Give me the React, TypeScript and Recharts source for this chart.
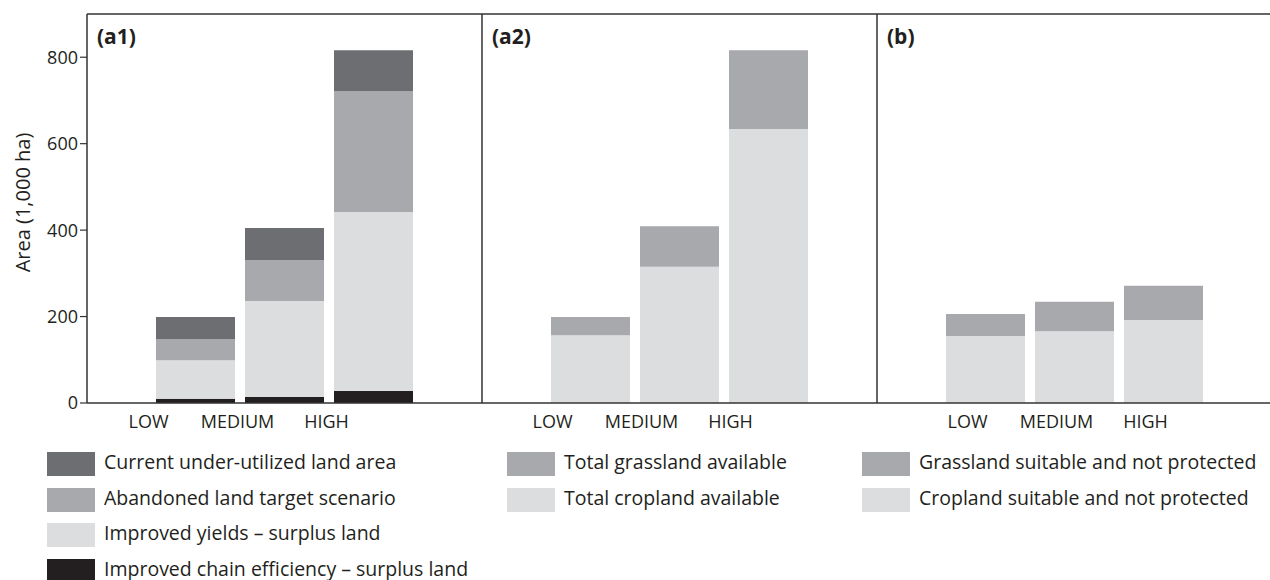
import React from 'react';
import { BarChart, Bar, XAxis, YAxis, ReferenceLine } from 'recharts';

const categories = ['LOW', 'MEDIUM', 'HIGH'];
// Panel (a1)
const chainEfficiency = [10, 14, 28];
const improvedYields = [89, 222, 414];
const abandonedLand = [49, 95, 280];
const currentUnderUtilized = [51, 74, 94];
// Panel (a2)
const totalCropland = [157, 315, 634];
const totalGrassland = [42, 94, 182];
// Panel (b)
const suitableCropland = [155, 166, 192];
const suitableGrassland = [51, 68, 79];

const yTicks = [0, 200, 400, 600, 800];
const yMax = 900;
const panelLabels = ['(a1)', '(a2)', '(b)'];
const yAxisLabel = 'Area (1,000 ha)';

const DARK = '#6d6e71';
const MID = '#a7a9ac';
const LIGHT = '#dcdddf';
const BLACK = '#231f20';
const LINE = '#333333';
const TEXT = '#231f20';
const FONT = "'Open Sans', 'Noto Sans', sans-serif";

const dataA1 = categories.map((c, i) => ({
  cat: c,
  chain: chainEfficiency[i],
  yields: improvedYields[i],
  abandoned: abandonedLand[i],
  current: currentUnderUtilized[i],
}));
const dataA2 = categories.map((c, i) => ({
  cat: c,
  crop: totalCropland[i],
  grass: totalGrassland[i],
}));
const dataB = categories.map((c, i) => ({
  cat: c,
  crop: suitableCropland[i],
  grass: suitableGrassland[i],
}));

const seriesA1 = [
  { key: 'chain', name: 'Improved chain efficiency – surplus land', color: BLACK },
  { key: 'yields', name: 'Improved yields – surplus land', color: LIGHT },
  { key: 'abandoned', name: 'Abandoned land target scenario', color: MID },
  { key: 'current', name: 'Current under-utilized land area', color: DARK },
];
const seriesA2 = [
  { key: 'crop', name: 'Total cropland available', color: LIGHT },
  { key: 'grass', name: 'Total grassland available', color: MID },
];
const seriesB = [
  { key: 'crop', name: 'Cropland suitable and not protected', color: LIGHT },
  { key: 'grass', name: 'Grassland suitable and not protected', color: MID },
];

const CHART_H = 440;
const PLOT_W = 395;

type PanelProps = {
  data: any[];
  series: { key: string; name: string; color: string }[];
  label: string;
  left: number;
  axisW: number;
  showY: boolean;
  tickDx: number;
};

const Panel = ({ data, series, label, left, axisW, showY, tickDx }: PanelProps) => {
  const renderTick = (props: any) => (
    <text
      x={props.x + tickDx}
      y={props.y}
      dy={17}
      textAnchor="middle"
      fill={TEXT}
      fontSize={18}
      fontFamily={FONT}
    >
      {props.payload.value}
    </text>
  );
  return (
    <div style={{ position: 'absolute', left, top: 0 }}>
      <BarChart
        width={axisW + PLOT_W}
        height={CHART_H}
        data={data}
        margin={{ top: 14, right: 0, bottom: 0, left: 0 }}
        barCategoryGap={5}
      >
        <XAxis
          dataKey="cat"
          type="category"
          height={37}
          padding={{ left: 64, right: 64 }}
          axisLine={{ stroke: LINE, strokeWidth: 1.5 }}
          tickLine={false}
          tick={renderTick}
          interval={0}
        />
        <YAxis
          type="number"
          domain={[0, yMax]}
          ticks={yTicks}
          width={axisW}
          allowDataOverflow
          axisLine={{ stroke: LINE, strokeWidth: 1.5 }}
          tickLine={showY ? { stroke: LINE, strokeWidth: 1.2 } : false}
          tickSize={7}
          tickMargin={2}
          tick={showY ? { fill: TEXT, fontSize: 18, fontFamily: FONT } : false}
          label={
            showY
              ? {
                  content: (p: any) => {
                    const vb = p.viewBox || { x: 0, y: 14, width: axisW, height: 389 };
                    const cx = vb.x + 22;
                    const cy = vb.y + vb.height / 2 - 6;
                    return (
                      <text
                        x={cx}
                        y={cy}
                        transform={`rotate(-90, ${cx}, ${cy})`}
                        textAnchor="middle"
                        dominantBaseline="central"
                        fill={TEXT}
                        fontSize={20}
                        fontFamily={FONT}
                      >
                        {yAxisLabel}
                      </text>
                    );
                  },
                }
              : undefined
          }
        />
        {series.map((s) => (
          <Bar
            key={s.key}
            dataKey={s.key}
            name={s.name}
            stackId="a"
            fill={s.color}
            isAnimationActive={false}
          />
        ))}
        <ReferenceLine
          y={yMax}
          stroke={LINE}
          strokeWidth={1.5}
          label={(p: any) => {
            const vb = p.viewBox || { x: axisW, y: 14 };
            return (
              <text
                x={vb.x + 10}
                y={vb.y + 30}
                fill={TEXT}
                fontSize={21}
                fontWeight={700}
                fontFamily={FONT}
              >
                {label}
              </text>
            );
          }}
        />
      </BarChart>
    </div>
  );
};

const legendCols = [
  { x: 47, items: [seriesA1[3], seriesA1[2], seriesA1[1], seriesA1[0]] },
  { x: 507, items: [seriesA2[1], seriesA2[0]] },
  { x: 862, items: [seriesB[1], seriesB[0]] },
];

const Legend = () => (
  <>
    {legendCols.map((col, ci) =>
      col.items.map((it, ri) => (
        <div
          key={`${ci}-${ri}`}
          style={{
            position: 'absolute',
            left: col.x,
            top: 452 + ri * 35.5,
            height: 24,
            display: 'flex',
            alignItems: 'center',
            whiteSpace: 'nowrap',
          }}
        >
          <div style={{ width: 48, height: 24, background: it.color, flex: 'none' }} />
          <span
            style={{
              marginLeft: 9,
              fontFamily: FONT,
              fontSize: 19.5,
              color: TEXT,
              lineHeight: '22px',
              position: 'relative',
              top: -2,
            }}
          >
            {it.name}
          </span>
        </div>
      ))
    )}
  </>
);

export default function App() {
  return (
    <div
      style={{
        position: 'fixed',
        left: 0,
        top: 0,
        width: 1270,
        height: 580,
        overflow: 'hidden',
        background: '#fff',
      }}
    >
      <Panel data={dataA1} series={seriesA1} label={panelLabels[0]} left={0} axisW={87} showY tickDx={-47} />
      <Panel data={dataA2} series={seriesA2} label={panelLabels[1]} left={472} axisW={10} showY={false} tickDx={-38} />
      <Panel data={dataB} series={seriesB} label={panelLabels[2]} left={867} axisW={10} showY={false} tickDx={-18} />
      <Legend />
    </div>
  );
}
